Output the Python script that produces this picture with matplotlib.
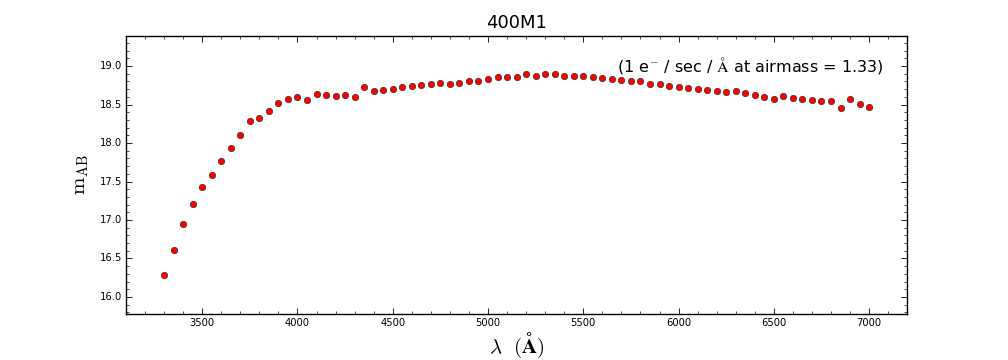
import matplotlib
matplotlib.use("Agg")
import matplotlib.pyplot as plt
import numpy as np
from matplotlib.ticker import MultipleLocator

wavelength = list(range(3300, 7001, 50))
mag_ab = [
    16.28, 16.615, 16.95, 17.21, 17.43, 17.58, 17.76, 17.94, 18.11, 18.28,
    18.33, 18.42, 18.52, 18.575, 18.60, 18.56, 18.64, 18.63, 18.61, 18.63,
    18.60, 18.73, 18.68, 18.69, 18.705, 18.73, 18.745, 18.76, 18.77, 18.78,
    18.77, 18.78, 18.80, 18.81, 18.835, 18.86, 18.86, 18.86, 18.89, 18.875,
    18.89, 18.89, 18.875, 18.875, 18.875, 18.86, 18.85, 18.835, 18.82, 18.81,
    18.80, 18.77, 18.77, 18.745, 18.73, 18.72, 18.705, 18.69, 18.68, 18.666,
    18.68, 18.65, 18.63, 18.60, 18.575, 18.61, 18.59, 18.575, 18.56, 18.55,
    18.55, 18.46, 18.575, 18.51, 18.47,
]
title = "400M1"
note = r"(1 e$^{-}$ / sec / $\mathrm{\AA}$ at airmass = 1.33)"

plt.style.use("classic")
plt.rcParams["mathtext.fontset"] = "cm"
plt.rcParams["font.family"] = ["DejaVu Sans"]

fig = plt.figure(figsize=(10.08, 3.6), dpi=100, facecolor="white")
ax = fig.add_axes([0.125, 0.128, 0.775, 0.772])
ax.set_facecolor("white")

ax.plot(wavelength, mag_ab, "o", color="red", markeredgecolor="#333333",
        markeredgewidth=0.5, markersize=4.6, linestyle="none")

ax.set_xlim(min(wavelength) - 200, max(wavelength) + 200)
ax.set_ylim(min(mag_ab) - 0.5, max(mag_ab) + 0.5)
ax.xaxis.set_major_locator(MultipleLocator(500))
ax.xaxis.set_minor_locator(MultipleLocator(100))
ax.yaxis.set_major_locator(MultipleLocator(0.5))
ax.yaxis.set_minor_locator(MultipleLocator(0.1))
ax.tick_params(which="major", length=4, width=0.6, direction="in", top=True, right=True)
ax.tick_params(which="minor", length=2, width=0.5, direction="in", top=True, right=True)
for lab in ax.get_xticklabels() + ax.get_yticklabels():
    lab.set_fontsize(8)
    lab.set_fontstretch("condensed")
ax.xaxis.set_tick_params(pad=3)
ax.yaxis.set_tick_params(pad=3)
for s in ax.spines.values():
    s.set_linewidth(1.0)

ax.set_title(title, fontsize=13, pad=6)
ax.text(0.97, 0.93, note, transform=ax.transAxes, ha="right", va="top", fontsize=11.5)
ax.set_xlabel(r"$\lambda\ \ (\mathbf{\AA})$", fontsize=15, labelpad=2)
ax.set_ylabel(r"$\mathrm{m_{AB}}$", fontsize=15, labelpad=6)

fig.savefig("out.png", dpi=100, facecolor="white")
